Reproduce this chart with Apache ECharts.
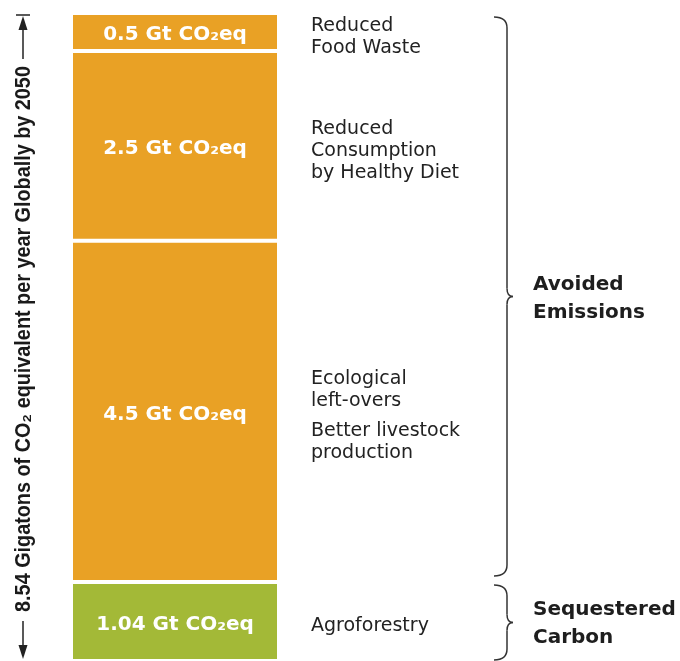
<!DOCTYPE html>
<html><head><meta charset="utf-8">
<script src="https://cdn.jsdelivr.net/npm/echarts@6/dist/echarts.min.js"></script>
<style>html,body{margin:0;padding:0;background:#fff}#c{width:680px;height:661px}</style>
</head><body><div id="c"></div>
<script>
// ---- data ----
const categories = ['Total'];
const segmentNames = ['Agroforestry', 'Ecological left-overs / Better livestock production', 'Reduced Consumption by Healthy Diet', 'Reduced Food Waste'];
const segmentValues = [1.04, 4.5, 2.5, 0.5];
const segmentColors = ['#A3B937', '#E9A125', '#E9A125', '#E9A125'];
const sideLabels = [['Agroforestry'], ['Ecological\nleft-overs', 'Better livestock\nproduction'], ['Reduced\nConsumption\nby Healthy Diet'], ['Reduced\nFood Waste']];
const groupNames = ['Sequestered\nCarbon', 'Avoided\nEmissions'];
const groupRanges = [[0, 1.04], [1.04, 8.54]];
const totalValue = 8.54;
const axisTitle = '8.54 Gigatons of CO\u2082 equivalent per year Globally by 2050';

const chart = echarts.init(document.getElementById('c'), null, {renderer: 'canvas'});
const FONT = 'DejaVu Sans';

chart.setOption({
  animation: false,
  backgroundColor: '#fff',
  grid: {left: 71, width: 208, top: 13, height: 659},
  xAxis: {type: 'category', data: categories, show: false},
  yAxis: {type: 'value', min: 0, max: totalValue, show: false},
  series: segmentValues.map((v, i) => ({
    name: segmentNames[i],
    type: 'bar',
    stack: 'total',
    barWidth: '100%',
    data: [v],
    itemStyle: {color: segmentColors[i], borderColor: '#fff', borderWidth: 2},
    label: {
      show: true, position: 'inside', offset: [0, 3],
      formatter: () => v + ' Gt CO\u2082eq',
      color: '#fff', fontFamily: FONT, fontWeight: 'bold', fontSize: 20
    }
  }))
});

const py = v => chart.convertToPixel({yAxisIndex: 0}, v);
const graphics = [];
const ink = '#222';

// side labels
let cum = 0;
segmentValues.forEach((v, i) => {
  const mid = py(cum + v / 2) + 5;
  cum += v;
  const blocks = sideLabels[i];
  blocks.forEach((t, j) => {
    const off = (j - (blocks.length - 1) / 2) * 52;
    graphics.push({type: 'text', x: 311, y: mid + off, silent: true,
      style: {text: t, fontFamily: FONT, fontSize: 19, lineHeight: 22, fill: ink, align: 'left', verticalAlign: 'middle'}});
  });
});

// braces + group labels
const braceStyle = {stroke: '#333', lineWidth: 1.5, fill: 'none'};
function bez(xa, ya, cx, cy, xb, yb) {
  return {type: 'bezierCurve', silent: true, shape: {x1: xa, y1: ya, cpx1: cx, cpy1: cy, x2: xb, y2: yb}, style: braceStyle};
}
function seg(xa, ya, xb, yb) {
  return {type: 'line', silent: true, shape: {x1: xa, y1: ya, x2: xb, y2: yb}, style: braceStyle};
}
groupRanges.forEach((r, i) => {
  const top = i === 1 ? py(r[1]) + 4 : py(r[1]) + 3;
  const bot = i === 1 ? py(r[0]) - 6 : Math.min(py(r[0]) - 1, 660);
  const mid = (top + bot) / 2;
  const x0 = 494, x1 = 507, x2 = 513;
  graphics.push(bez(x0, top, x1, top, x1, top + 11));
  graphics.push(seg(x1, top + 11, x1, mid - 8));
  graphics.push(bez(x1, mid - 8, x1, mid, x2, mid));
  graphics.push(bez(x2, mid, x1, mid, x1, mid + 8));
  graphics.push(seg(x1, mid + 8, x1, bot - 11));
  graphics.push(bez(x1, bot - 11, x1, bot, x0, bot));
  graphics.push({type: 'text', x: 533, y: mid + (i === 1 ? 2 : 1), silent: true,
    style: {text: groupNames[i], fontFamily: FONT, fontWeight: 'bold', fontSize: 20, lineHeight: 28, fill: '#1e1e1e', align: 'left', verticalAlign: 'middle'}});
});

// left axis arrow + rotated title
const topY = py(totalValue) + 2, botY = Math.min(py(0) - 2, 660);
const ax = 23;
const lineStyle = {stroke: '#222', lineWidth: 1.5};
graphics.push({type: 'line', silent: true, shape: {x1: ax - 7, y1: topY, x2: ax + 7, y2: topY}, style: lineStyle});
graphics.push({type: 'polygon', silent: true, shape: {points: [[ax, topY + 1], [ax - 4.5, topY + 15], [ax + 4.5, topY + 15]]}, style: {fill: '#222'}});
graphics.push({type: 'line', silent: true, shape: {x1: ax, y1: topY + 14, x2: ax, y2: topY + 44}, style: lineStyle});
graphics.push({type: 'line', silent: true, shape: {x1: ax, y1: botY - 38, x2: ax, y2: botY - 12}, style: lineStyle});
graphics.push({type: 'polygon', silent: true, shape: {points: [[ax, botY], [ax - 4.5, botY - 14], [ax + 4.5, botY - 14]]}, style: {fill: '#222'}});
graphics.push({type: 'text', silent: true, x: ax + 1, y: (topY + botY) / 2 + 2, rotation: Math.PI / 2, scaleX: 0.9,
  style: {text: axisTitle, fontFamily: 'Liberation Sans', fontWeight: 'bold', fontSize: 22, fill: '#1a1a1a', align: 'center', verticalAlign: 'middle'}});

chart.setOption({graphic: graphics});
</script></body></html>
